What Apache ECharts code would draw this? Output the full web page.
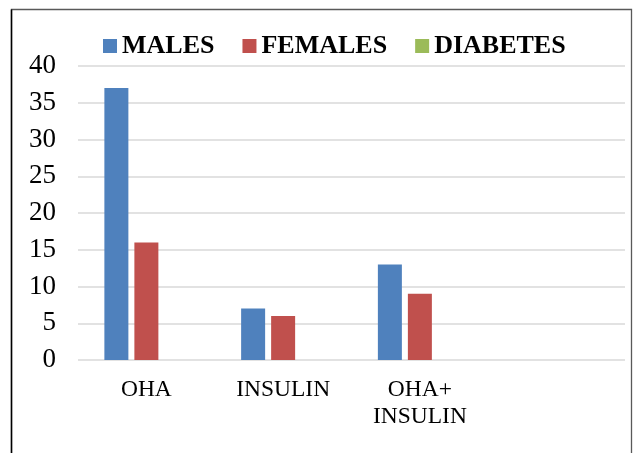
<!DOCTYPE html>
<html>
<head>
<meta charset="utf-8">
<script src="https://cdn.jsdelivr.net/npm/echarts@6/dist/echarts.min.js"></script>
<style>
  html, body { margin: 0; padding: 0; background: #fff; }
  #chart { width: 633px; height: 453px; }
</style>
</head>
<body>
<div id="chart"></div>
<script>
// Treatment categories (the fourth slot is left blank on the axis)
const categories = ['OHA', 'INSULIN', 'OHA+\nINSULIN', ''];
const seriesNames = ['MALES', 'FEMALES', 'DIABETES'];
const males = [37, 7, 13, 0];
const females = [16, 6, 9, 0];
const diabetes = [0, 0, 0, 0];
const yTicks = { min: 0, max: 40, interval: 5 };

const colors = ['#4f81bd', '#c0504d', '#9bbb59'];
const serif = '"Liberation Serif", "Times New Roman", serif';

const chart = echarts.init(document.getElementById('chart'), null, { renderer: 'canvas' });

chart.setOption({
  animation: false,
  backgroundColor: '#ffffff',
  color: colors,
  legend: {
    data: seriesNames,
    left: 98,
    top: 28,
    itemWidth: 14,
    itemHeight: 14,
    itemGap: 28,
    icon: 'rect',
    textStyle: { fontFamily: serif, fontWeight: 'bold', fontSize: 26, color: '#000' }
  },
  grid: { left: 78, right: 8, top: 66, bottom: 93, containLabel: false },
  xAxis: {
    type: 'category',
    data: categories,
    axisLine: { show: false },
    axisTick: { show: false },
    axisLabel: {
      interval: 0,
      margin: 16,
      fontFamily: serif,
      fontSize: 23.5,
      lineHeight: 27,
      color: '#000',
      verticalAlign: 'top'
    }
  },
  yAxis: {
    type: 'value',
    min: yTicks.min,
    max: yTicks.max,
    interval: yTicks.interval,
    axisLine: { show: false },
    axisTick: { show: false },
    axisLabel: { margin: 22, fontFamily: serif, fontSize: 27, color: '#000' },
    splitLine: { lineStyle: { color: '#d9d9d9', width: 1.5 } }
  },
  series: [
    { name: seriesNames[0], type: 'bar', data: males, barWidth: 24, barGap: '25%' },
    { name: seriesNames[1], type: 'bar', data: females, barWidth: 24, barGap: '25%' },
    { name: seriesNames[2], type: 'bar', data: diabetes, barWidth: 24, barGap: '25%' }
  ],
  graphic: [
    {
      type: 'polyline',
      shape: { points: [[11.5, 470], [11.5, 9.5], [631.5, 9.5], [631.5, 470]] },
      style: { stroke: '#595959', lineWidth: 1.3, fill: null }
    },
    {
      type: 'line',
      shape: { x1: 11.5, y1: 9.5, x2: 11.5, y2: 470 },
      style: { stroke: '#000', lineWidth: 1.5 }
    }
  ]
});
</script>
</body>
</html>
